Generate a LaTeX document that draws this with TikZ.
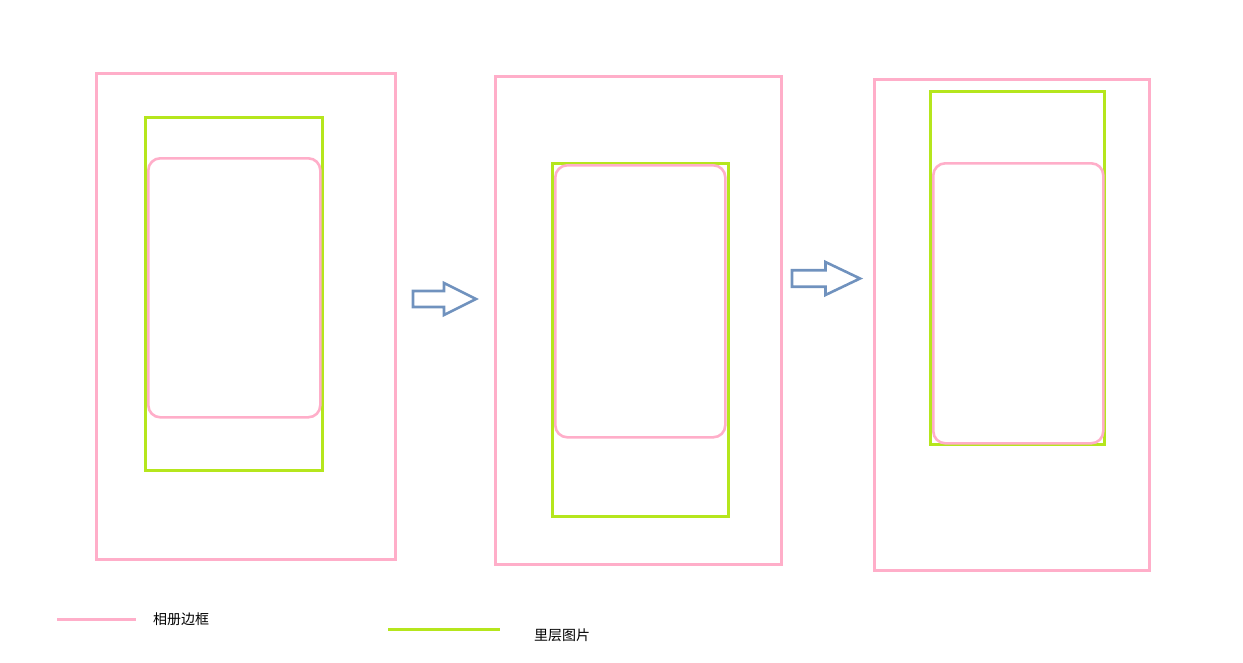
\documentclass[tikz,border=0pt]{standalone}
\usepackage{fontspec}
\newfontfamily\cjk{Noto Sans CJK SC}
\usepackage{tikz}
\usetikzlibrary{positioning}
\definecolor{rose}{HTML}{FFAEC9}
\definecolor{lime}{HTML}{B5E61D}
\definecolor{flow}{HTML}{7092BE}
\tikzset{
  album/.style={draw=rose,line width=2.6pt,anchor=north west,inner sep=0pt},
  inner/.style={album,rounded corners=12pt},
  photo/.style={draw=lime,line width=2.6pt,anchor=north west,inner sep=0pt},
  legtxt/.style={font=\cjk\fontsize{14}{16}\selectfont,anchor=west,inner sep=0pt},
  nextarrow/.pic={\draw[flow,line width=2.6pt,line join=miter] (0,-8) -- (31,-8) -- (31,-16) -- (63,0) -- (31,16) -- (31,8) -- (0,8) -- cycle;},
}
\begin{document}
\begin{tikzpicture}[x=1pt,y=-1pt]
\useasboundingbox (0,0) rectangle (1243,662);
% step 1
\node[album,minimum width=299pt,minimum height=486pt] (outerA) at (95,72) {};
\node[photo,minimum width=177pt,minimum height=353pt] (photoA) at (144,116) {};
\node[inner,minimum width=172pt,minimum height=259pt] (frameA) at (147,157) {};
\pic at (413,299) {nextarrow};
% step 2
\node[album,minimum width=286pt,minimum height=488pt] (outerB) at (494,75) {};
\node[photo,minimum width=176pt,minimum height=353pt] (photoB) at (551,162) {};
\node[inner,minimum width=170pt,minimum height=272pt] (frameB) at (554,164) {};
\pic[xscale=1.08,yscale=1.03] at (792,278.5) {nextarrow};
% step 3
\node[album,minimum width=275pt,minimum height=491pt] (outerC) at (873,78) {};
\node[photo,minimum width=174pt,minimum height=353pt] (photoC) at (929,90) {};
\node[inner,minimum width=170pt,minimum height=280pt] (frameC) at (932,162) {};
% legend
\coordinate (legA) at (57,619);
\coordinate (legB) at (388,629);
\draw[rose,line width=3pt] (legA) -- ++(79,0);
\node[legtxt] (txtA) at (153,619) {相册边框};
\draw[lime,line width=3pt] (legB) -- ++(112,0);
\node[legtxt] (txtB) at (534,635) {里层图片};
\end{tikzpicture}
\end{document}
